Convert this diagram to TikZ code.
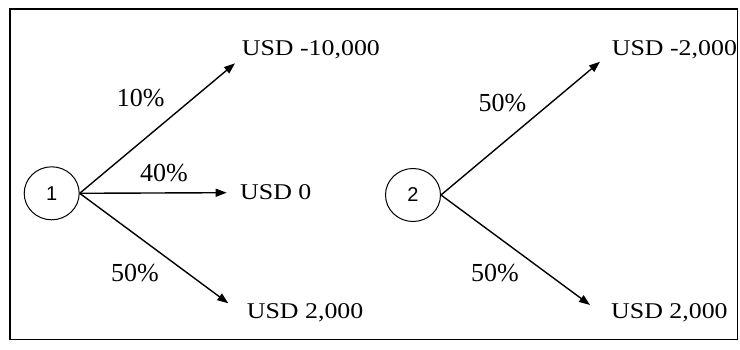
\documentclass[tikz,border=0pt]{standalone}
\usepackage{fontspec}
\setmainfont{Liberation Serif}
\newfontfamily\usdfont[FakeStretch=1.15]{Liberation Serif}
\newfontfamily\numfont{Liberation Sans}
\usetikzlibrary{arrows.meta,shapes.geometric}
\begin{document}
\begin{tikzpicture}[x=1pt,y=-1pt,
  chance/.style={ellipse,draw,line width=1pt,minimum width=55pt,minimum height=53pt,inner sep=0pt,
    font=\numfont\fontsize{20}{22}\selectfont},
  branch/.style={line width=1.4pt,-{Triangle[length=11pt,width=8pt]}},
  pct/.style={anchor=base,inner sep=0pt,font=\fontsize{26}{28}\selectfont},
  outcome/.style={anchor=base west,inner sep=0pt,font=\usdfont\fontsize{22.5}{26}\selectfont}]
\useasboundingbox (0,0) rectangle (740,350);
\begin{scope}
\clip (10,9.3) rectangle (737.5,339.3);
\node[chance] (n1) at (51.7,193.3) {1};
\node[chance] (n2) at (413,195) {2};
\coordinate (t1a) at (235,63.3);
\coordinate (t1b) at (226.7,192.7);
\coordinate (t1c) at (228.3,303.3);
\coordinate (t2a) at (600,61.7);
\coordinate (t2b) at (590,305);
\draw[branch] (n1.east) -- (t1a);
\draw[branch] (n1.east) -- (t1b);
\draw[branch] (n1.east) -- (t1c);
\draw[branch] (n2.east) -- (t2a);
\draw[branch] (n2.east) -- (t2b);
\node[pct] (p1a) at (140.8,106.7) {10\%};
\node[pct] (p1b) at (164,181.7) {40\%};
\node[pct] (p1c) at (135,281.7) {50\%};
\node[pct] (p2a) at (502.5,111.7) {50\%};
\node[pct] (p2b) at (495,282) {50\%};
\node[outcome] (o1a) at (241.7,56) {USD -10,000};
\node[outcome] (o1b) at (240,200) {USD 0};
\node[outcome] (o1c) at (246.7,318.3) {USD 2,000};
\node[outcome] (o2a) at (611.7,56) {USD -2,000};
\node[outcome] (o2b) at (611,318.3) {USD 2,000};
\end{scope}
\draw[line width=1.6pt] (10,9.3) rectangle (737.5,339.3);
\end{tikzpicture}
\end{document}
